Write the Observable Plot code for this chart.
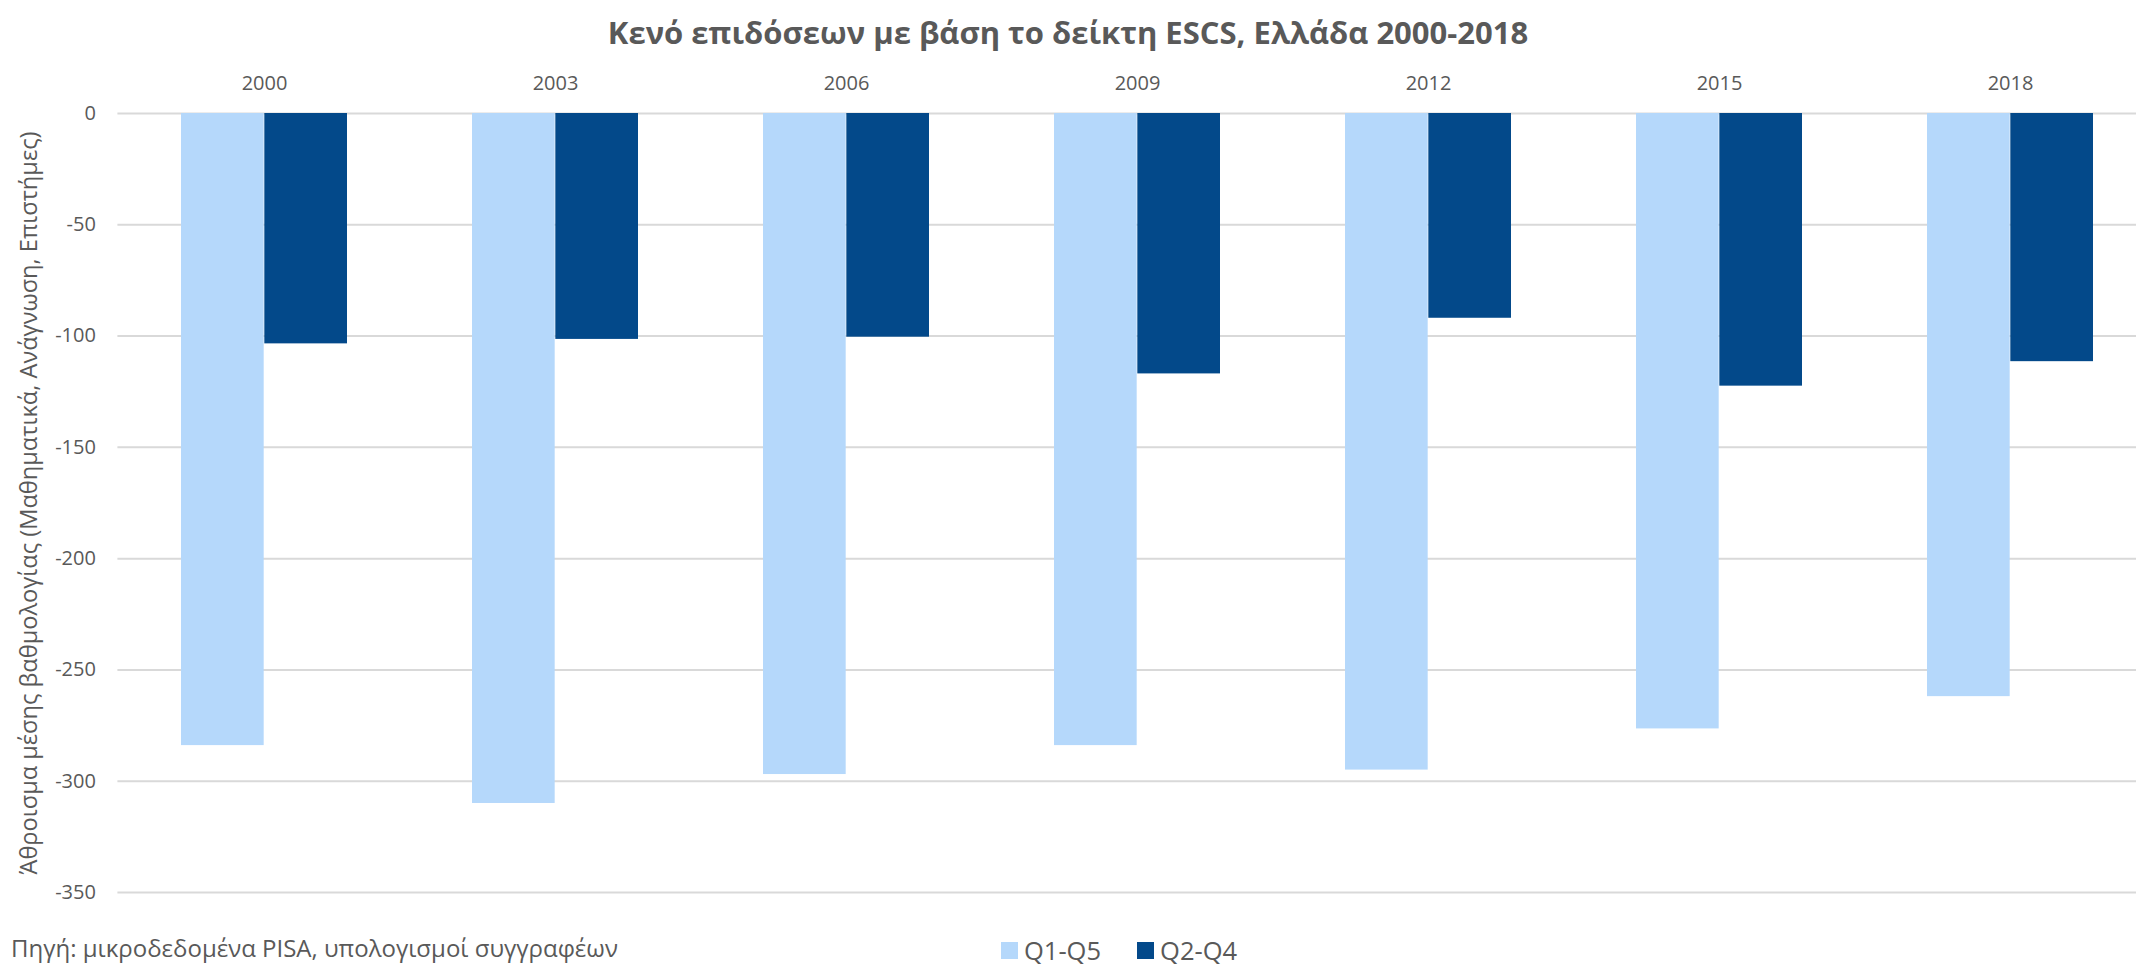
<!DOCTYPE html>
<html>
<head>
<meta charset="utf-8">
<script src="https://cdn.jsdelivr.net/npm/d3@7"></script>
<script src="https://cdn.jsdelivr.net/npm/@observablehq/plot@0.6"></script>
<style>
  html, body { margin: 0; padding: 0; background: #fff; overflow: hidden; }
  body { width: 2136px; height: 966px; font-family: "Open Sans", sans-serif; color: #595959; }
  #title { height: 60px; line-height: 64px; text-align: center; font-weight: bold; font-size: 31px; color: #595959; }
  #footer { position: relative; height: 36px; }
  #legend { position: absolute; left: 1001px; top: 3px; display: flex; align-items: center; font-size: 25.5px; color: #595959; }
  #legend .sw { width: 17px; height: 17px; display: inline-block; margin-right: 6px; }
  #legend .item { display: flex; align-items: center; margin-right: 36px; }
  #source { position: absolute; left: 11px; top: 2px; font-size: 24px; line-height: 32px; color: #595959; white-space: nowrap; }
</style>
</head>
<body>
<div id="title">Κενό επιδόσεων με βάση το δείκτη ESCS, Ελλάδα 2000-2018</div>
<div id="chart"></div>
<div id="footer">
  <div id="legend"></div>
  <div id="source">Πηγή: μικροδεδομένα PISA, υπολογισμοί συγγραφέων</div>
</div>
<script>
const years = ["2000", "2003", "2006", "2009", "2012", "2015", "2018"];
const seriesNames = ["Q1-Q5", "Q2-Q4"];
const q1q5 = [-284, -310, -297, -284, -295, -276.5, -262];
const q2q4 = [-103.5, -101.5, -100.5, -117, -92, -122.5, -111.5];
const yTicks = [0, -50, -100, -150, -200, -250, -300, -350];
const colors = ["#b5d8fb", "#03498a"];

const xRange = [117.4, 2156.6];
const xScaleOpts = {type: "band", domain: years, range: xRange, paddingInner: 0.428, paddingOuter: 0.214};
const half = Plot.scale({x: xScaleOpts}).bandwidth / 2;

const rowsA = years.map((y, i) => ({year: y, value: q1q5[i], series: seriesNames[0]}));
const rowsB = years.map((y, i) => ({year: y, value: q2q4[i], series: seriesNames[1]}));

const chart = Plot.plot({
  width: 2136,
  height: 870,
  marginTop: 53,
  marginBottom: 38,
  marginLeft: 117.4,
  marginRight: 0,
  style: {fontFamily: "Open Sans, sans-serif", color: "#595959", background: "#fff", overflow: "hidden"},
  x: {...xScaleOpts, label: null},
  y: {domain: [-350, 0], label: null},
  marks: [
    Plot.ruleY(yTicks, {stroke: "#d9d9d9", strokeWidth: 2}),
    Plot.barY(rowsA, {x: "year", y: "value", fill: colors[0], insetRight: half}),
    Plot.barY(rowsB, {x: "year", y: "value", fill: colors[1], insetLeft: half}),
    Plot.axisX({anchor: "top", tickSize: 0, tickPadding: 24, fontSize: 20, fill: "#595959"}),
    Plot.axisY({ticks: yTicks, tickSize: 0, tickPadding: 22, fontSize: 20, fill: "#595959", tickFormat: d => String(d).replace("−", "-"),
      label: null}),
    Plot.text(["Άθροισμα μέσης βαθμολογίας (Μαθηματικά, Ανάγνωση, Επιστήμες)"], {
      frameAnchor: "left", dx: -88, rotate: -90, fontSize: 23.6, fill: "#595959", textAnchor: "middle"
    })
  ]
});
document.getElementById("chart").appendChild(chart);

const legend = document.getElementById("legend");
seriesNames.forEach((name, i) => {
  const item = document.createElement("div");
  item.className = "item";
  const sw = document.createElement("span");
  sw.className = "sw";
  sw.style.background = colors[i];
  const lab = document.createElement("span");
  lab.textContent = name;
  item.appendChild(sw);
  item.appendChild(lab);
  legend.appendChild(item);
});
</script>
</body>
</html>
